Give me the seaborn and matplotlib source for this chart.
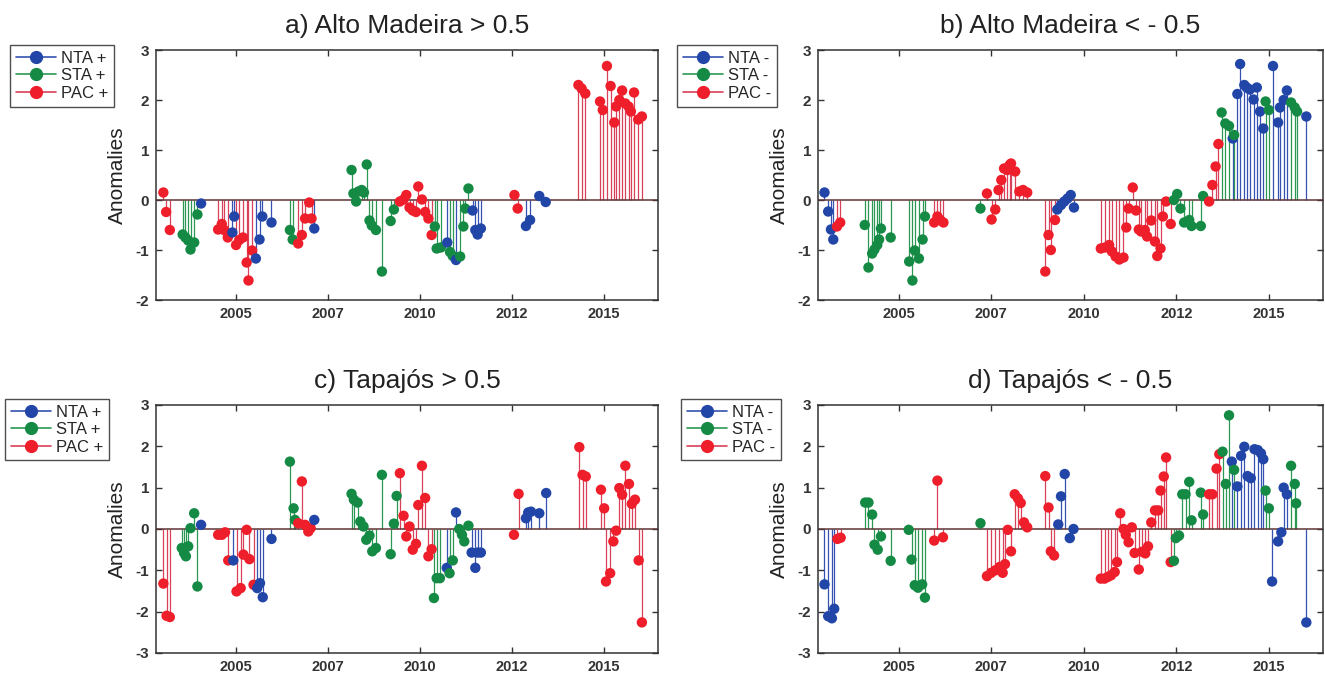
import pandas as pd
import seaborn as sns
import matplotlib
matplotlib.use('Agg')
import matplotlib.pyplot as plt
from matplotlib.lines import Line2D
from matplotlib.legend_handler import HandlerLine2D

# Anomalies; x is a sample index along the time axis
tick_pos = [20, 40, 60, 80, 100]
tick_labels = ['2005', '2007', '2010', '2012', '2015']

a_x = [4.2, 4.8, 5.6, 8.4, 9.0, 9.6, 10.1, 10.9, 11.6, 12.4, 16.1, 16.9, 17.4, 18.2, 19.2, 19.6,
       20.0, 20.7, 21.5, 22.3, 22.7, 23.5, 24.3, 25.1, 25.7, 27.7, 31.7, 32.3, 33.5, 34.3, 35.0,
       35.9, 36.4, 37.0, 45.1, 45.5, 46.1, 46.6, 47.3, 47.8, 48.4, 49.0, 49.5, 50.4, 51.7, 53.6,
       54.3, 55.6, 56.4, 57.0, 57.7, 58.4, 59.1, 59.6, 60.4, 61.1, 61.8, 62.5, 63.2, 63.6, 64.5,
       65.9, 66.5, 67.1, 67.8, 68.7, 69.4, 69.8, 70.5, 71.4, 72.0, 72.5, 73.2, 80.5, 81.2, 83.0,
       83.9, 85.9, 87.3, 94.4, 95.1, 95.9, 99.1, 99.7, 100.6, 101.4, 102.2, 102.6, 103.3, 103.9,
       104.6, 105.3, 105.8, 106.5, 107.4, 108.2]
a_y = [0.15, -0.24, -0.6, -0.69, -0.75, -0.81, -0.99, -0.85, -0.29, -0.07, -0.59, -0.48, -0.6,
       -0.75, -0.65, -0.33, -0.9, -0.8, -0.75, -1.25, -1.61, -1.01, -1.17, -0.79, -0.33, -0.45,
       -0.6, -0.79, -0.87, -0.7, -0.37, -0.05, -0.37, -0.57, 0.6, 0.13, -0.03, 0.17, 0.2, 0.15,
       0.71, -0.41, -0.51, -0.6, -1.43, -0.42, -0.19, -0.03, 0.01, 0.1, -0.15, -0.21, -0.24, 0.27,
       0.01, -0.24, -0.37, -0.7, -0.53, -0.97, -0.95, -0.85, -1.04, -1.12, -1.2, -1.13, -0.53,
       -0.17, 0.23, -0.21, -0.6, -0.69, -0.57, 0.1, -0.17, -0.52, -0.4, 0.08, -0.04, 2.3, 2.23,
       2.13, 1.97, 1.8, 2.68, 2.28, 1.55, 1.87, 2.0, 2.19, 1.93, 1.87, 1.77, 2.15, 1.61, 1.67]
a_src = "P3 S6 N1 P4 N2 P6 N4 S2 P5 N1 S13 P11 S3 N1 S2 N1 S4 N4 P2 N4 P17"

b_x = [4.0, 4.8, 5.4, 5.9, 6.7, 7.4, 12.7, 13.5, 14.3, 14.8, 15.4, 15.8, 16.2, 18.3, 22.3, 23.0,
       23.5, 24.4, 25.2, 25.7, 27.7, 28.4, 29.0, 29.7, 37.7, 39.1, 40.1, 40.9, 41.6, 42.2, 42.8,
       43.5, 44.0, 44.3, 45.2, 46.1, 46.9, 47.8, 51.7, 52.4, 52.9, 53.8, 54.3, 55.1, 55.8, 56.5,
       57.2, 57.9, 63.7, 64.6, 65.5, 66.1, 66.9, 67.7, 68.6, 69.2, 69.7, 70.6, 71.3, 71.9, 72.4,
       73.2, 73.7, 74.6, 75.4, 75.9, 76.6, 77.1, 77.8, 78.8, 79.5, 80.2, 80.9, 81.7, 82.8, 83.3,
       85.3, 85.8, 87.1, 87.8, 88.5, 89.1, 89.8, 90.6, 91.4, 92.2, 92.5, 93.2, 93.8, 94.7, 95.2,
       95.9, 96.7, 97.4, 98.1, 98.8, 99.3, 100.0, 100.9, 102.0, 102.4, 103.2, 103.9, 104.8, 105.6,
       106.1, 108.1]
b_y = [0.15, -0.23, -0.59, -0.79, -0.53, -0.45, -0.5, -1.35, -1.07, -0.99, -0.9, -0.79, -0.57,
       -0.75, -1.23, -1.61, -1.01, -1.17, -0.79, -0.33, -0.45, -0.33, -0.4, -0.45, -0.17, 0.13,
       -0.39, -0.19, 0.2, 0.4, 0.63, 0.6, 0.7, 0.73, 0.57, 0.17, 0.2, 0.15, -1.43, -0.7, -1.0,
       -0.4, -0.19, -0.1, -0.03, 0.03, 0.1, -0.15, -0.97, -0.95, -0.9, -1.03, -1.13, -1.19, -1.15,
       -0.55, -0.17, 0.25, -0.21, -0.59, -0.63, -0.6, -0.73, -0.41, -0.83, -1.12, -0.97, -0.33,
       -0.03, -0.48, 0.0, 0.12, -0.17, -0.45, -0.4, -0.52, -0.52, 0.08, -0.03, 0.3, 0.67, 1.12,
       1.75, 1.53, 1.48, 1.23, 1.3, 2.12, 2.72, 2.3, 2.25, 2.21, 2.01, 2.25, 1.77, 1.43, 1.97, 1.8,
       2.68, 1.55, 1.85, 2.0, 2.19, 1.95, 1.85, 1.77, 1.67]
b_src = "N4 P2 S14 P4 S1 P17 N6 P22 S8 P4 S3 N1 S1 N9 S2 N5 S3 N1"

c_x = [4.2, 4.9, 5.6, 8.2, 8.7, 9.1, 9.6, 10.1, 10.9, 11.6, 12.4, 16.1, 16.9, 17.6, 18.3, 19.4,
       20.1, 21.0, 21.6, 22.3, 22.9, 23.8, 24.6, 25.2, 25.8, 27.7, 31.7, 32.5, 32.8, 33.5, 34.3,
       35.0, 35.7, 36.2, 37.0, 45.1, 45.6, 46.4, 47.0, 47.7, 48.3, 49.0, 49.6, 50.4, 51.7, 53.6,
       54.3, 54.9, 55.6, 56.4, 57.0, 57.7, 58.4, 59.1, 59.6, 60.4, 61.1, 61.8, 62.5, 63.0, 63.6,
       64.3, 65.8, 66.4, 67.1, 67.8, 68.5, 69.1, 69.6, 70.5, 71.2, 72.0, 72.5, 73.2, 80.4, 81.4,
       83.0, 83.5, 84.1, 85.9, 87.4, 94.6, 95.3, 96.0, 99.3, 100.0, 100.4, 101.3, 102.0, 102.6,
       103.3, 103.9, 104.6, 105.4, 106.0, 106.7, 107.5, 108.2]
c_y = [-1.32, -2.1, -2.13, -0.46, -0.58, -0.66, -0.42, 0.02, 0.38, -1.39, 0.1, -0.14, -0.14, -0.08,
       -0.76, -0.76, -1.51, -1.43, -0.62, -0.02, -0.73, -1.35, -1.43, -1.31, -1.65, -0.24, 1.63,
       0.5, 0.22, 0.14, 1.15, 0.1, -0.06, 0.02, 0.22, 0.85, 0.71, 0.64, 0.18, 0.06, -0.26, -0.16,
       -0.54, -0.46, 1.31, -0.61, 0.13, 0.8, 1.35, 0.32, -0.18, 0.06, -0.5, -0.36, 0.58, 1.53,
       0.75, -0.66, -0.49, -1.67, -1.19, -1.19, -0.94, -1.07, -0.76, 0.4, 0.0, -0.14, -0.3, 0.08,
       -0.57, -0.94, -0.57, -0.57, -0.14, 0.85, 0.26, 0.4, 0.42, 0.38, 0.87, 1.98, 1.31, 1.27,
       0.95, 0.5, -1.27, -1.07, -0.3, -0.04, 0.99, 0.83, 1.53, 1.09, 0.61, 0.71, -0.76, -2.26]
c_src = "P3 S7 N1 P4 N1 P6 N4 S3 P5 N1 S13 P11 S3 N1 S2 N1 S4 N4 P2 N5 P17"

d_x = [4.0, 4.8, 5.6, 6.1, 6.8, 7.5, 12.8, 13.5, 14.3, 14.8, 15.5, 16.2, 18.3, 22.2, 22.8, 23.5,
       24.2, 25.1, 25.7, 27.7, 28.4, 29.6, 37.7, 39.1, 40.0, 40.9, 41.8, 42.5, 43.0, 43.6, 44.3,
       45.1, 45.8, 46.4, 47.1, 47.8, 51.7, 52.4, 52.9, 53.6, 54.5, 55.1, 55.9, 57.0, 57.8, 63.7,
       64.5, 65.2, 65.9, 66.7, 67.2, 67.9, 68.6, 69.1, 69.7, 70.4, 71.0, 71.9, 72.6, 73.3, 73.9,
       74.6, 75.4, 76.1, 76.6, 77.3, 77.8, 78.8, 79.5, 79.9, 80.6, 81.3, 82.0, 82.8, 83.3, 85.3,
       85.8, 87.1, 87.8, 88.7, 89.3, 90.0, 90.7, 91.4, 92.0, 92.5, 93.2, 94.0, 94.7, 95.4, 96.1,
       96.9, 97.6, 98.3, 98.8, 99.3, 100.0, 100.7, 102.0, 102.7, 103.2, 103.9, 104.8, 105.6,
       105.9, 108.1]
d_y = [-1.34, -2.11, -2.16, -1.93, -0.24, -0.21, 0.64, 0.64, 0.35, -0.38, -0.5, -0.18, -0.77,
       -0.02, -0.74, -1.36, -1.42, -1.34, -1.66, -0.28, 1.17, -0.2, 0.14, -1.14, -1.06, -1.0,
       -0.92, -1.06, -0.85, -0.02, -0.54, 0.84, 0.74, 0.63, 0.16, 0.04, 1.28, 0.52, -0.54, -0.64,
       0.11, 0.79, 1.33, -0.22, 0.0, -1.2, -1.2, -1.16, -1.12, -1.04, -0.8, 0.38, 0.0, -0.14,
       -0.32, 0.04, -0.58, -0.98, -0.55, -0.59, -0.42, 0.16, 0.45, 0.45, 0.93, 1.27, 1.73, -0.8,
       -0.77, -0.22, -0.16, 0.84, 0.84, 1.14, 0.21, 0.88, 0.35, 0.84, 0.84, 1.46, 1.81, 1.87,
       1.09, 2.75, 1.63, 1.43, 1.03, 1.77, 1.99, 1.28, 1.23, 1.93, 1.91, 1.83, 1.69, 0.93, 0.5,
       -1.27, -0.3, -0.08, 1.0, 0.84, 1.53, 1.09, 0.62, -2.26]
d_src = "N4 P2 S13 P3 S1 P17 N5 P23 S9 P4 S3 N1 S1 N9 S2 N5 S3 N1"

series = ['NTA', 'STA', 'PAC']
codes = {'N': 'NTA', 'S': 'STA', 'P': 'PAC'}
marker_pal = {'NTA': '#2146a8', 'STA': '#148a45', 'PAC': '#ee1e2a'}
stem_pal = {'NTA': '#3552b2', 'STA': '#2a9852', 'PAC': '#d9405a'}

sns.set_theme(style='white')
plt.rcParams['font.family'] = ['Liberation Sans', 'DejaVu Sans']


def expand(src):
    out = []
    for c in src.split():
        out += [codes[c[0]]] * int(c[1:])
    return out


class StemHandler(HandlerLine2D):
    # line from the left, marker on the right end, like a MATLAB stem legend
    def get_xdata(self, legend, xdescent, ydescent, width, height, fontsize):
        return [-xdescent, -xdescent + width], [-xdescent + width]


def stem_panel(ax, x, y, src, title, sign, ylim, leg_anchor):
    df = pd.DataFrame({'t': x, 'anom': y, 'src': expand(src)})
    for k in series:
        d = df[df['src'] == k]
        ax.vlines(d['t'], 0, d['anom'], colors=stem_pal[k], lw=0.9, zorder=1.5)
    ax.axhline(0, color='#5e3434', lw=1.1, zorder=2)
    sns.scatterplot(data=df, x='t', y='anom', hue='src', hue_order=series, palette=marker_pal,
                    s=56, linewidth=0, legend=False, ax=ax, zorder=3)
    ax.set_xlim(2.6, 111.7)
    ax.set_ylim(*ylim)
    ax.set_xticks(tick_pos)
    ax.set_xticklabels(tick_labels, fontsize=10.5, fontweight='bold', color='#333333')
    ax.set_yticks(range(ylim[0], ylim[1] + 1))
    ax.set_yticklabels([str(v) for v in range(ylim[0], ylim[1] + 1)], fontsize=11,
                       fontweight='bold', color='#333333')
    ax.tick_params(direction='in', length=4, width=1, top=True, right=True,
                   bottom=True, left=True, pad=5, color='#333333')
    ax.set_xlabel('')
    ax.set_ylabel('Anomalies', fontsize=15, labelpad=6, color='#222222')
    ax.set_title(title, fontsize=19, pad=12, color='#222222')
    for sp in ax.spines.values():
        sp.set_color('#333333')
        sp.set_linewidth(1.1)
    handles = [Line2D([], [], color=stem_pal[k], lw=1.2, marker='o', markersize=8.5,
                      markerfacecolor=marker_pal[k], markeredgecolor=marker_pal[k])
               for k in series]
    leg = ax.legend(handles, [f'{k} {sign}' for k in series],
                    handler_map={Line2D: StemHandler()}, loc='upper left',
                    bbox_to_anchor=leg_anchor, borderaxespad=0, frameon=True,
                    fancybox=False, edgecolor='#222222', fontsize=12, handlelength=2.4,
                    handletextpad=0.3, borderpad=0.35, labelspacing=0.15)
    leg.get_frame().set_linewidth(1.0)


fig = plt.figure(figsize=(13.25, 6.75), dpi=100)
ax_a = fig.add_axes([156 / 1325, 375 / 675, 502 / 1325, 250 / 675])
ax_b = fig.add_axes([818 / 1325, 375 / 675, 505 / 1325, 250 / 675])
ax_c = fig.add_axes([156 / 1325, 22 / 675, 502 / 1325, 248 / 675])
ax_d = fig.add_axes([818 / 1325, 22 / 675, 505 / 1325, 248 / 675])

stem_panel(ax_a, a_x, a_y, a_src, 'a) Alto Madeira > 0.5', '+', (-2, 3), (-0.291, 1.02))
stem_panel(ax_b, b_x, b_y, b_src, 'b) Alto Madeira < - 0.5', '-', (-2, 3), (-0.279, 1.02))
stem_panel(ax_c, c_x, c_y, c_src, 'c) Tapajós > 0.5', '+', (-3, 3), (-0.3, 1.025))
stem_panel(ax_d, d_x, d_y, d_src, 'd) Tapajós < - 0.5', '-', (-3, 3), (-0.271, 1.025))

fig.savefig('out.png', dpi=100)
plt.close()
